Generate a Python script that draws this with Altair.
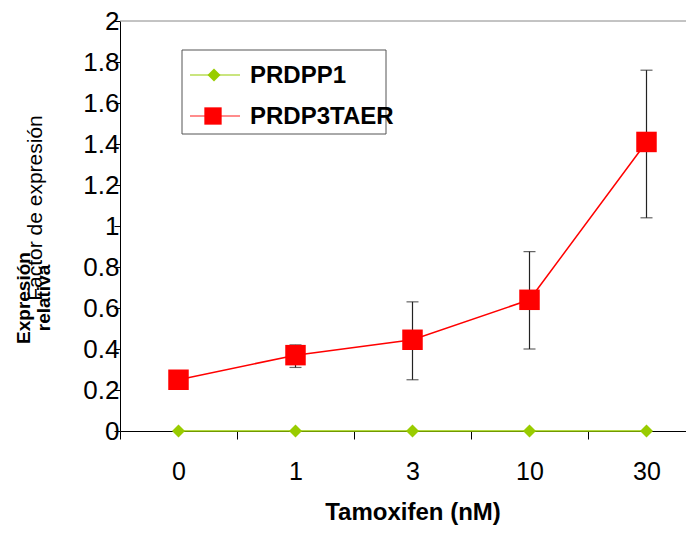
import altair as alt
import pandas as pd

categories = ["0", "1", "3", "10", "30"]
green_vals = [0, 0, 0, 0, 0]
red_vals = [0.25, 0.37, 0.445, 0.64, 1.41]
red_lo = [0.25, 0.31, 0.25, 0.40, 1.04]
red_hi = [0.25, 0.42, 0.63, 0.875, 1.76]
y_ticks = [0, 0.2, 0.4, 0.6, 0.8, 1, 1.2, 1.4, 1.6, 1.8, 2]
series_names = ["PRDPP1", "PRDP3TAER"]
x_title = "Tamoxifen (nM)"
y_title_main = "Factor de expresión"
y_title_bold = ["Expresión", "relativa"]

df = pd.DataFrame({
    "cat": categories,
    "green": green_vals,
    "red": red_vals,
    "lo": red_lo,
    "hi": red_hi,
})

FONT = "Liberation Sans"
x_scale = alt.Scale(paddingInner=0, paddingOuter=0, range=[0, 585])
x_enc = alt.X("cat:N", sort=categories, title=x_title, scale=x_scale,
              axis=alt.Axis(labelAngle=0, tickBand="extent", tickSize=8,
                            labelFontSize=25, labelFont=FONT, labelColor="black",
                            labelPadding=20, titleFontSize=24, titleFont=FONT,
                            titleFontWeight="bold", titlePadding=16, titleColor="black",
                            domainColor="black", tickColor="black", grid=False))
x_plain = alt.X("cat:N", sort=categories)
y_scale = alt.Scale(domain=[0, 2], nice=False)
y_axis = alt.Axis(values=y_ticks, labelExpr="datum.value == 0 ? '0' : format(datum.value, '.1~f')",
                  labelFontSize=26, labelFont=FONT, labelColor="black", labelPadding=-5,
                  tickSize=6, tickColor="black", domainColor="black", grid=False, title=None)

base = alt.Chart(df)

green_line = base.mark_line(color="#99cc00", strokeWidth=1.5).encode(
    x=x_enc, y=alt.Y("green:Q", scale=y_scale, axis=y_axis))
green_pts = base.mark_point(shape="diamond", filled=True, color="#99cc00", size=170, opacity=1).encode(
    x=x_plain, y="green:Q")
err = base.mark_rule(color="#222222", strokeWidth=1.2).encode(
    x=x_plain, y="lo:Q", y2="hi:Q")
cap_lo = base.mark_tick(color="#222222", size=12, thickness=1.2, orient="horizontal").encode(
    x=x_plain, y="lo:Q")
cap_hi = base.mark_tick(color="#222222", size=12, thickness=1.2, orient="horizontal").encode(
    x=x_plain, y="hi:Q")
red_line = base.mark_line(color="#ff0000", strokeWidth=1.5).encode(
    x=x_plain, y="red:Q")
red_pts = base.mark_square(color="#ff0000", size=420, opacity=1).encode(
    x=x_plain, y="red:Q")

one = alt.Chart(pd.DataFrame({"a": [0]}))
top_line = one.mark_rule(color="#888888", strokeWidth=1).encode(
    x=alt.value(0), x2=alt.value(600), y=alt.value(0))
legend_box = one.mark_rect(fill="white", stroke="#555555", strokeWidth=1).encode(
    x=alt.value(62), x2=alt.value(266), y=alt.value(29), y2=alt.value(113))
lg_line1 = one.mark_rule(color="#b8dd55", strokeWidth=1.5).encode(
    x=alt.value(70), x2=alt.value(120), y=alt.value(54))
lg_pt1 = one.mark_point(shape="diamond", filled=True, color="#99cc00", size=170, opacity=1).encode(
    x=alt.value(94), y=alt.value(54))
lg_line2 = one.mark_rule(color="#ff6666", strokeWidth=1.5).encode(
    x=alt.value(70), x2=alt.value(120), y=alt.value(95))
lg_pt2 = one.mark_square(color="#ff0000", size=300, opacity=1).encode(
    x=alt.value(93), y=alt.value(95))
lg_t1 = one.mark_text(text=series_names[0], font=FONT, fontSize=24, fontWeight="bold",
                      align="left", baseline="middle").encode(x=alt.value(130), y=alt.value(55))
lg_t2 = one.mark_text(text=series_names[1], font=FONT, fontSize=24, fontWeight="bold",
                      align="left", baseline="middle").encode(x=alt.value(130), y=alt.value(96))

yt_main = one.mark_text(text=y_title_main, font=FONT, fontSize=21, angle=270,
                        align="center", baseline="middle").encode(x=alt.value(-84), y=alt.value(187))
yt_b1 = one.mark_text(text=y_title_bold[0], font=FONT, fontSize=19, fontWeight="bold", angle=270,
                      align="center", baseline="middle").encode(x=alt.value(-96), y=alt.value(277))
yt_b2 = one.mark_text(text=y_title_bold[1], font=FONT, fontSize=19, fontWeight="bold", angle=270,
                      align="center", baseline="middle").encode(x=alt.value(-76), y=alt.value(277))

chart = alt.layer(
    green_line, top_line, err, cap_lo, cap_hi, red_line, red_pts, green_pts,
    legend_box, lg_line1, lg_pt1, lg_line2, lg_pt2, lg_t1, lg_t2,
    yt_main, yt_b1, yt_b2,
).properties(
    width=566, height=410,
    autosize=alt.AutoSizeParams(type="none"),
    padding={"left": 112, "top": 13, "right": 0, "bottom": 94},
    background="white",
).configure_view(stroke=None)

chart.save("out.html", embed_options={"renderer": "svg", "actions": False})
